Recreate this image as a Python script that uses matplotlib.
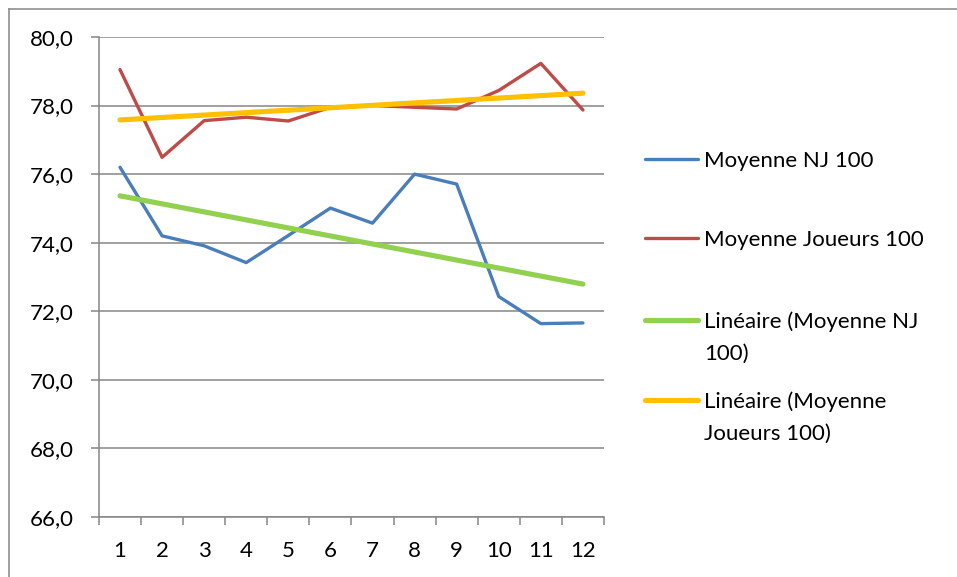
import matplotlib.pyplot as plt
from matplotlib.lines import Line2D
from matplotlib.ticker import FuncFormatter, MultipleLocator
import numpy as np

plt.rcParams['font.family'] = ['Lato', 'DejaVu Sans']

mois = list(range(1, 13))
moyenne_nj = [76.2, 74.2, 73.91, 73.42, 74.21, 75.01, 74.57, 76.0, 75.71, 72.43, 71.64, 71.66]
moyenne_joueurs = [79.05, 76.49, 77.56, 77.66, 77.55, 77.95, 78.0, 77.95, 77.9, 78.44, 79.23, 77.87]
etiquettes = ['Moyenne NJ 100', 'Moyenne Joueurs 100',
              'Linéaire (Moyenne NJ\n100)', 'Linéaire (Moyenne\nJoueurs 100)']

bleu = '#4A7EBB'
rouge = '#BE4B48'
vert = '#92D050'
jaune = '#FFC000'
gris = '#868686'

# linear trend lines, like Excel's "Linéaire" trendline
x = np.array(mois, dtype=float)
p_nj = np.polyfit(x, moyenne_nj, 1)
p_j = np.polyfit(x, moyenne_joueurs, 1)

fig = plt.figure(figsize=(9.57, 5.77), dpi=100)
ax = fig.add_axes([0.1034, 0.104, 0.5277, 0.8319])

ax.plot(mois, moyenne_nj, color=bleu, lw=2.4, solid_capstyle='round', zorder=3)
ax.plot(mois, moyenne_joueurs, color=rouge, lw=2.4, solid_capstyle='round', zorder=3)
ax.plot(x, np.polyval(p_nj, x), color=vert, lw=3.7, solid_capstyle='round', zorder=4)
ax.plot(x, np.polyval(p_j, x), color=jaune, lw=3.7, solid_capstyle='round', zorder=4)

ax.set_xlim(0.5, 12.5)
ax.set_ylim(66, 80)
ax.yaxis.set_major_locator(MultipleLocator(2))
ax.yaxis.set_major_formatter(FuncFormatter(lambda v, p: f'{v:.1f}'.replace('.', ',')))
ax.set_xticks(mois)
ax.set_xticks(np.arange(0.5, 13, 1), minor=True)

ax.grid(axis='y', color=gris, lw=1.1)
ax.set_axisbelow(True)
for s in ['top', 'right']:
    ax.spines[s].set_visible(False)
for s in ['left', 'bottom']:
    ax.spines[s].set_color(gris)
    ax.spines[s].set_linewidth(1.1)

ax.tick_params(axis='y', length=6, width=1.1, color=gris, pad=12, labelsize=16)
ax.tick_params(axis='x', which='major', length=0, pad=17, labelsize=16)
ax.tick_params(axis='x', which='minor', length=6, width=1.1, color=gris)

# chart area border
fig.add_artist(Line2D([0.0094, 0.0094], [0, 0.9844], color=gris, lw=1.1))
fig.add_artist(Line2D([0.0094, 1], [0.9844, 0.9844], color=gris, lw=1.1))

# legend drawn to the right of the plot
couleurs = [bleu, rouge, vert, jaune]
largeurs = [2.4, 2.4, 3.7, 3.7]
rangs = [159, 238, 320, 400]
for c, lw, lab, yy in zip(couleurs, largeurs, etiquettes, rangs):
    yf = 1 - yy / 577
    fig.add_artist(Line2D([645 / 957, 698 / 957], [yf, yf], color=c, lw=lw,
                          solid_capstyle='round'))
    for i, ligne in enumerate(lab.split('\n')):
        fig.text(704 / 957, 1 - (yy + 32 * i) / 577, ligne, fontsize=16,
                 va='center_baseline', ha='left')

fig.savefig('out.png', dpi=100)
